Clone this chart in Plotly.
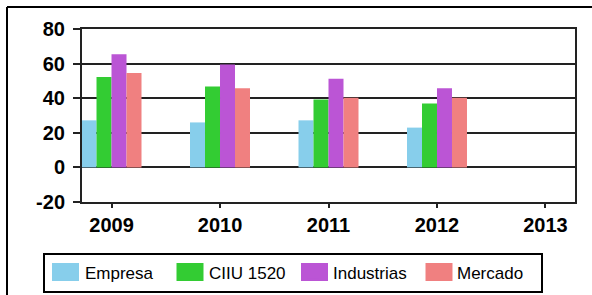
import plotly.graph_objects as go

years = ["2009", "2010", "2011", "2012", "2013"]
empresa = [27.2, 26.0, 27.2, 23.0, None]
ciiu = [52.3, 46.7, 39.2, 36.9, None]
industrias = [65.4, 59.5, 51.3, 45.7, None]
mercado = [54.6, 45.7, 40.3, 40.3, None]
y_ticks = [-20, 0, 20, 40, 60, 80]
y_labels = ["-20", "0", "20", "40", "60", "80"]

series = [
    ("Empresa", empresa, "#87CEEB"),
    ("CIIU 1520", ciiu, "#33CC33"),
    ("Industrias", industrias, "#BB55D5"),
    ("Mercado", mercado, "#F08080"),
]

fig = go.Figure()
for name, vals, col in series:
    fig.add_trace(go.Bar(x=years, y=vals, name=name, marker=dict(color=col, line=dict(width=0))))

W, H = 592, 295
L, R, T, B = 82, 17, 29, 93
pw = W - L - R
ph = H - T - B

def px_x(x):
    return (x - L) / pw

def px_y(y):
    return (H - B - y) / ph

tickfont = dict(size=20, family="Liberation Sans, Arial, sans-serif", color="black", weight="bold")

fig.update_layout(
    width=W, height=H,
    margin=dict(l=L, r=R, t=T, b=B, pad=0, autoexpand=False),
    paper_bgcolor="white", plot_bgcolor="white",
    barmode="group", bargap=0.447, bargroupgap=0,
    font=dict(family="Liberation Sans, Arial, sans-serif", color="black"),
    showlegend=True,
    legend=dict(
        orientation="h", x=px_x(43), xanchor="left",
        y=px_y(253), yanchor="top",
        bordercolor="black", borderwidth=2, bgcolor="rgba(0,0,0,0)",
        font=dict(size=17, color="black"),
        entrywidth=79, entrywidthmode="pixels",
        traceorder="normal", itemclick=False,
    ),
    xaxis=dict(
        type="category", range=[-0.272, 4.272],
        showline=True, linecolor="#222", linewidth=2, mirror=True,
        ticks="outside", ticklen=4, tickwidth=2, tickcolor="#222",
        tickfont=tickfont,
        showgrid=False, fixedrange=True,
    ),
    yaxis=dict(
        range=[-20, 80], tickmode="array", tickvals=y_ticks, ticktext=y_labels,
        showline=True, linecolor="#222", linewidth=2, mirror=True,
        ticks="outside", ticklen=7, tickwidth=2, tickcolor="#222",
        ticklabelstandoff=4,
        tickfont=tickfont,
        showgrid=True, gridcolor="#222", gridwidth=2,
        zeroline=True, zerolinecolor="#222", zerolinewidth=2,
        fixedrange=True,
    ),
)

# larger legend swatches (style only, matching the original legend keys)
for i, (name, vals, col) in enumerate(series):
    x0 = 52 + i * 124.5
    fig.add_shape(type="rect", xref="paper", yref="paper",
                  x0=px_x(x0), x1=px_x(x0 + 27), y0=px_y(281), y1=px_y(263),
                  fillcolor=col, line=dict(width=0), layer="above")

# outer frame (left and top edges visible)
fig.add_shape(type="line", xref="paper", yref="paper",
              x0=px_x(7), x1=px_x(7), y0=px_y(300), y1=px_y(7),
              line=dict(color="black", width=2))
fig.add_shape(type="line", xref="paper", yref="paper",
              x0=px_x(7), x1=px_x(600), y0=px_y(7), y1=px_y(7),
              line=dict(color="black", width=2))

fig.write_html("out.html", config={"displayModeBar": False},
               post_script="document.body.style.margin='0';document.body.style.overflow='hidden';")
